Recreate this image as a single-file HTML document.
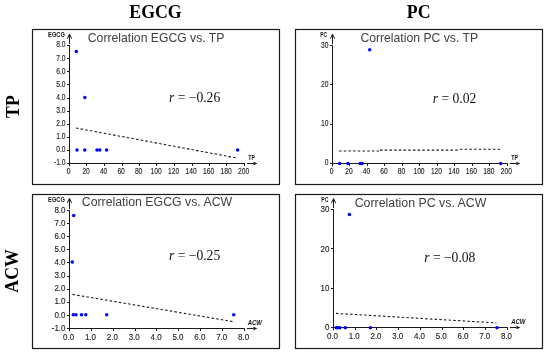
<!DOCTYPE html>
<html><head><meta charset="utf-8"><style>
html,body{margin:0;padding:0;background:#fff;}
svg{display:block;filter:blur(0.3px);}
.tk{font-family:"Liberation Sans", sans-serif;font-size:8px;fill:#1a1a1a;stroke:#1a1a1a;stroke-width:0.12px;}
.an{font-family:"Liberation Sans", sans-serif;font-size:6.4px;font-weight:bold;fill:#111;}
.it{font-style:italic;}
.ti{font-family:"Liberation Sans", sans-serif;font-size:12px;fill:#404040;}
.rr{font-family:"Liberation Serif", serif;font-size:13.6px;fill:#111;}
.hd{font-family:"Liberation Serif", serif;font-size:17.8px;font-weight:bold;fill:#000;}
</style></head><body>
<svg width="550" height="356" viewBox="0 0 550 356">
<rect width="550" height="356" fill="#fff"/>
<rect x="32.5" y="29.5" width="247" height="155" fill="none" stroke="#1a1a1a" stroke-width="1.2"/>
<line x1="69.5" y1="166.3" x2="69.5" y2="45.10" stroke="#1a1a1a" stroke-width="1"/>
<line x1="69.5" y1="44.00" x2="69.5" y2="36" stroke="#1a1a1a" stroke-width="1"/>
<path d="M67.2,38.8 L69.5,34 L71.8,38.8" fill="none" stroke="#1a1a1a" stroke-width="0.9"/>
<path d="M68.3,37 L69.5,34 L70.7,37 Z" fill="#1a1a1a"/>
<line x1="67.0" y1="163.5" x2="245.0" y2="163.5" stroke="#1a1a1a" stroke-width="1"/>
<line x1="247.0" y1="163.5" x2="253.5" y2="163.5" stroke="#1a1a1a" stroke-width="1"/>
<path d="M253.5,161.7 L257.5,163.5 L253.5,165.3 Z" fill="#1a1a1a"/>
<line x1="67.0" y1="163.50" x2="69.5" y2="163.50" stroke="#1a1a1a" stroke-width="1"/>
<text transform="translate(65.50,165.30) scale(0.78,1)" text-anchor="end" class="tk" style="font-size:8.6px">-1.0</text>
<line x1="67.0" y1="150.50" x2="69.5" y2="150.50" stroke="#1a1a1a" stroke-width="1"/>
<text transform="translate(65.50,152.20) scale(0.78,1)" text-anchor="end" class="tk" style="font-size:8.6px">0.0</text>
<line x1="67.0" y1="137.50" x2="69.5" y2="137.50" stroke="#1a1a1a" stroke-width="1"/>
<text transform="translate(65.50,139.10) scale(0.78,1)" text-anchor="end" class="tk" style="font-size:8.6px">1.0</text>
<line x1="67.0" y1="124.50" x2="69.5" y2="124.50" stroke="#1a1a1a" stroke-width="1"/>
<text transform="translate(65.50,126.00) scale(0.78,1)" text-anchor="end" class="tk" style="font-size:8.6px">2.0</text>
<line x1="67.0" y1="111.50" x2="69.5" y2="111.50" stroke="#1a1a1a" stroke-width="1"/>
<text transform="translate(65.50,112.90) scale(0.78,1)" text-anchor="end" class="tk" style="font-size:8.6px">3.0</text>
<line x1="67.0" y1="98.50" x2="69.5" y2="98.50" stroke="#1a1a1a" stroke-width="1"/>
<text transform="translate(65.50,99.80) scale(0.78,1)" text-anchor="end" class="tk" style="font-size:8.6px">4.0</text>
<line x1="67.0" y1="84.50" x2="69.5" y2="84.50" stroke="#1a1a1a" stroke-width="1"/>
<text transform="translate(65.50,86.70) scale(0.78,1)" text-anchor="end" class="tk" style="font-size:8.6px">5.0</text>
<line x1="67.0" y1="71.50" x2="69.5" y2="71.50" stroke="#1a1a1a" stroke-width="1"/>
<text transform="translate(65.50,73.60) scale(0.78,1)" text-anchor="end" class="tk" style="font-size:8.6px">6.0</text>
<line x1="67.0" y1="58.50" x2="69.5" y2="58.50" stroke="#1a1a1a" stroke-width="1"/>
<text transform="translate(65.50,60.50) scale(0.78,1)" text-anchor="end" class="tk" style="font-size:8.6px">7.0</text>
<line x1="67.0" y1="45.50" x2="69.5" y2="45.50" stroke="#1a1a1a" stroke-width="1"/>
<text transform="translate(65.50,47.40) scale(0.78,1)" text-anchor="end" class="tk" style="font-size:8.6px">8.0</text>
<text transform="translate(68.60,173.90) scale(0.78,1)" text-anchor="middle" class="tk" style="font-size:8.6px">0</text>
<line x1="86.50" y1="163.5" x2="86.50" y2="166.0" stroke="#1a1a1a" stroke-width="1"/>
<text transform="translate(86.10,173.90) scale(0.78,1)" text-anchor="middle" class="tk" style="font-size:8.6px">20</text>
<line x1="104.50" y1="163.5" x2="104.50" y2="166.0" stroke="#1a1a1a" stroke-width="1"/>
<text transform="translate(103.60,173.90) scale(0.78,1)" text-anchor="middle" class="tk" style="font-size:8.6px">40</text>
<line x1="122.50" y1="163.5" x2="122.50" y2="166.0" stroke="#1a1a1a" stroke-width="1"/>
<text transform="translate(121.10,173.90) scale(0.78,1)" text-anchor="middle" class="tk" style="font-size:8.6px">60</text>
<line x1="139.50" y1="163.5" x2="139.50" y2="166.0" stroke="#1a1a1a" stroke-width="1"/>
<text transform="translate(138.60,173.90) scale(0.78,1)" text-anchor="middle" class="tk" style="font-size:8.6px">80</text>
<line x1="156.50" y1="163.5" x2="156.50" y2="166.0" stroke="#1a1a1a" stroke-width="1"/>
<text transform="translate(156.10,173.90) scale(0.78,1)" text-anchor="middle" class="tk" style="font-size:8.6px">100</text>
<line x1="174.50" y1="163.5" x2="174.50" y2="166.0" stroke="#1a1a1a" stroke-width="1"/>
<text transform="translate(173.60,173.90) scale(0.78,1)" text-anchor="middle" class="tk" style="font-size:8.6px">120</text>
<line x1="192.50" y1="163.5" x2="192.50" y2="166.0" stroke="#1a1a1a" stroke-width="1"/>
<text transform="translate(191.10,173.90) scale(0.78,1)" text-anchor="middle" class="tk" style="font-size:8.6px">140</text>
<line x1="209.50" y1="163.5" x2="209.50" y2="166.0" stroke="#1a1a1a" stroke-width="1"/>
<text transform="translate(208.60,173.90) scale(0.78,1)" text-anchor="middle" class="tk" style="font-size:8.6px">160</text>
<line x1="226.50" y1="163.5" x2="226.50" y2="166.0" stroke="#1a1a1a" stroke-width="1"/>
<text transform="translate(226.10,173.90) scale(0.78,1)" text-anchor="middle" class="tk" style="font-size:8.6px">180</text>
<line x1="244.50" y1="163.5" x2="244.50" y2="166.0" stroke="#1a1a1a" stroke-width="1"/>
<text transform="translate(243.60,173.90) scale(0.78,1)" text-anchor="middle" class="tk" style="font-size:8.6px">200</text>
<text x="48.10" y="36.90" textLength="16.8" lengthAdjust="spacingAndGlyphs" class="an">EGCG</text>
<text x="248.30" y="160.20" textLength="6.7" lengthAdjust="spacingAndGlyphs" class="an">TP</text>
<text x="87.8" y="41.6" class="ti" style="font-size:12.2px">Correlation EGCG vs. TP</text>
<text x="169" y="101.5" class="rr"><tspan font-style="italic">r</tspan> = −0.26</text>
<line x1="76" y1="128" x2="237" y2="158" stroke="#1a1a1a" stroke-width="1.1" stroke-dasharray="2.5,2.2"/>
<circle cx="77" cy="150" r="1.75" fill="#0000ff"/>
<circle cx="84.8" cy="150" r="1.75" fill="#0000ff"/>
<circle cx="97" cy="150" r="1.75" fill="#0000ff"/>
<circle cx="99.7" cy="150" r="1.75" fill="#0000ff"/>
<circle cx="106.6" cy="150" r="1.75" fill="#0000ff"/>
<circle cx="237.6" cy="150" r="1.75" fill="#0000ff"/>
<circle cx="76.3" cy="51.4" r="1.75" fill="#0000ff"/>
<circle cx="84.8" cy="97.5" r="1.75" fill="#0000ff"/>
<rect x="295.5" y="29.5" width="247" height="155" fill="none" stroke="#1a1a1a" stroke-width="1.2"/>
<line x1="332.5" y1="166.3" x2="332.5" y2="45.30" stroke="#1a1a1a" stroke-width="1"/>
<line x1="332.5" y1="44.20" x2="332.5" y2="36.1" stroke="#1a1a1a" stroke-width="1"/>
<path d="M330.2,38.9 L332.5,34.1 L334.8,38.9" fill="none" stroke="#1a1a1a" stroke-width="0.9"/>
<path d="M331.3,37.1 L332.5,34.1 L333.7,37.1 Z" fill="#1a1a1a"/>
<line x1="330.0" y1="163.5" x2="507.8" y2="163.5" stroke="#1a1a1a" stroke-width="1"/>
<line x1="509.8" y1="163.5" x2="516.3" y2="163.5" stroke="#1a1a1a" stroke-width="1"/>
<path d="M516.3,161.7 L520.3,163.5 L516.3,165.3 Z" fill="#1a1a1a"/>
<line x1="330.0" y1="163.50" x2="332.5" y2="163.50" stroke="#1a1a1a" stroke-width="1"/>
<text transform="translate(328.50,165.20) scale(0.78,1)" text-anchor="end" class="tk" style="font-size:8.6px">0</text>
<line x1="330.0" y1="124.50" x2="332.5" y2="124.50" stroke="#1a1a1a" stroke-width="1"/>
<text transform="translate(328.50,126.00) scale(0.78,1)" text-anchor="end" class="tk" style="font-size:8.6px">10</text>
<line x1="330.0" y1="84.50" x2="332.5" y2="84.50" stroke="#1a1a1a" stroke-width="1"/>
<text transform="translate(328.50,86.80) scale(0.78,1)" text-anchor="end" class="tk" style="font-size:8.6px">20</text>
<line x1="330.0" y1="45.50" x2="332.5" y2="45.50" stroke="#1a1a1a" stroke-width="1"/>
<text transform="translate(328.50,47.60) scale(0.78,1)" text-anchor="end" class="tk" style="font-size:8.6px">30</text>
<text transform="translate(331.60,173.90) scale(0.78,1)" text-anchor="middle" class="tk" style="font-size:8.6px">0</text>
<line x1="349.50" y1="163.5" x2="349.50" y2="166.0" stroke="#1a1a1a" stroke-width="1"/>
<text transform="translate(349.08,173.90) scale(0.78,1)" text-anchor="middle" class="tk" style="font-size:8.6px">20</text>
<line x1="367.50" y1="163.5" x2="367.50" y2="166.0" stroke="#1a1a1a" stroke-width="1"/>
<text transform="translate(366.56,173.90) scale(0.78,1)" text-anchor="middle" class="tk" style="font-size:8.6px">40</text>
<line x1="384.50" y1="163.5" x2="384.50" y2="166.0" stroke="#1a1a1a" stroke-width="1"/>
<text transform="translate(384.04,173.90) scale(0.78,1)" text-anchor="middle" class="tk" style="font-size:8.6px">60</text>
<line x1="402.50" y1="163.5" x2="402.50" y2="166.0" stroke="#1a1a1a" stroke-width="1"/>
<text transform="translate(401.52,173.90) scale(0.78,1)" text-anchor="middle" class="tk" style="font-size:8.6px">80</text>
<line x1="419.50" y1="163.5" x2="419.50" y2="166.0" stroke="#1a1a1a" stroke-width="1"/>
<text transform="translate(419.00,173.90) scale(0.78,1)" text-anchor="middle" class="tk" style="font-size:8.6px">100</text>
<line x1="437.50" y1="163.5" x2="437.50" y2="166.0" stroke="#1a1a1a" stroke-width="1"/>
<text transform="translate(436.48,173.90) scale(0.78,1)" text-anchor="middle" class="tk" style="font-size:8.6px">120</text>
<line x1="454.50" y1="163.5" x2="454.50" y2="166.0" stroke="#1a1a1a" stroke-width="1"/>
<text transform="translate(453.96,173.90) scale(0.78,1)" text-anchor="middle" class="tk" style="font-size:8.6px">140</text>
<line x1="472.50" y1="163.5" x2="472.50" y2="166.0" stroke="#1a1a1a" stroke-width="1"/>
<text transform="translate(471.44,173.90) scale(0.78,1)" text-anchor="middle" class="tk" style="font-size:8.6px">160</text>
<line x1="489.50" y1="163.5" x2="489.50" y2="166.0" stroke="#1a1a1a" stroke-width="1"/>
<text transform="translate(488.92,173.90) scale(0.78,1)" text-anchor="middle" class="tk" style="font-size:8.6px">180</text>
<line x1="507.50" y1="163.5" x2="507.50" y2="166.0" stroke="#1a1a1a" stroke-width="1"/>
<text transform="translate(506.40,173.90) scale(0.78,1)" text-anchor="middle" class="tk" style="font-size:8.6px">200</text>
<text x="320.30" y="36.60" textLength="6.7" lengthAdjust="spacingAndGlyphs" class="an">PC</text>
<text x="511.20" y="159.80" textLength="6.8" lengthAdjust="spacingAndGlyphs" class="an">TP</text>
<text x="360.4" y="41.7" class="ti" style="font-size:12.2px">Correlation PC vs. TP</text>
<text x="432.7" y="102.6" class="rr"><tspan font-style="italic">r</tspan> = 0.02</text>
<path d="M339,151 L379,151 M380,150.1 L459,150.1 M460,149.2 L500.7,149.2" fill="none" stroke="#1a1a1a" stroke-width="1.1" stroke-dasharray="2.5,2.2"/>
<circle cx="339.6" cy="163.4" r="1.75" fill="#0000ff"/>
<circle cx="348" cy="163.4" r="1.75" fill="#0000ff"/>
<circle cx="360.2" cy="163.4" r="1.75" fill="#0000ff"/>
<circle cx="362.2" cy="163.4" r="1.75" fill="#0000ff"/>
<circle cx="369.7" cy="49.7" r="1.75" fill="#0000ff"/>
<circle cx="500.7" cy="163.4" r="1.75" fill="#0000ff"/>
<rect x="32.5" y="194.5" width="247" height="154" fill="none" stroke="#1a1a1a" stroke-width="1.2"/>
<line x1="69.5" y1="331.3" x2="69.5" y2="210.26" stroke="#1a1a1a" stroke-width="1"/>
<line x1="69.5" y1="209.16" x2="69.5" y2="200.2" stroke="#1a1a1a" stroke-width="1"/>
<path d="M67.2,203.0 L69.5,198.2 L71.8,203.0" fill="none" stroke="#1a1a1a" stroke-width="0.9"/>
<path d="M68.3,201.2 L69.5,198.2 L70.7,201.2 Z" fill="#1a1a1a"/>
<line x1="67.0" y1="328.5" x2="244.9" y2="328.5" stroke="#1a1a1a" stroke-width="1"/>
<line x1="246.9" y1="328.5" x2="253.4" y2="328.5" stroke="#1a1a1a" stroke-width="1"/>
<path d="M253.4,326.7 L257.4,328.5 L253.4,330.3 Z" fill="#1a1a1a"/>
<line x1="67.0" y1="328.50" x2="69.5" y2="328.50" stroke="#1a1a1a" stroke-width="1"/>
<text transform="translate(65.50,330.60) scale(0.93,1)" text-anchor="end" class="tk" style="font-size:8.6px">-1.0</text>
<line x1="67.0" y1="315.50" x2="69.5" y2="315.50" stroke="#1a1a1a" stroke-width="1"/>
<text transform="translate(65.50,317.54) scale(0.93,1)" text-anchor="end" class="tk" style="font-size:8.6px">0.0</text>
<line x1="67.0" y1="302.50" x2="69.5" y2="302.50" stroke="#1a1a1a" stroke-width="1"/>
<text transform="translate(65.50,304.48) scale(0.93,1)" text-anchor="end" class="tk" style="font-size:8.6px">1.0</text>
<line x1="67.0" y1="289.50" x2="69.5" y2="289.50" stroke="#1a1a1a" stroke-width="1"/>
<text transform="translate(65.50,291.42) scale(0.93,1)" text-anchor="end" class="tk" style="font-size:8.6px">2.0</text>
<line x1="67.0" y1="276.50" x2="69.5" y2="276.50" stroke="#1a1a1a" stroke-width="1"/>
<text transform="translate(65.50,278.36) scale(0.93,1)" text-anchor="end" class="tk" style="font-size:8.6px">3.0</text>
<line x1="67.0" y1="262.50" x2="69.5" y2="262.50" stroke="#1a1a1a" stroke-width="1"/>
<text transform="translate(65.50,265.30) scale(0.93,1)" text-anchor="end" class="tk" style="font-size:8.6px">4.0</text>
<line x1="67.0" y1="249.50" x2="69.5" y2="249.50" stroke="#1a1a1a" stroke-width="1"/>
<text transform="translate(65.50,252.24) scale(0.93,1)" text-anchor="end" class="tk" style="font-size:8.6px">5.0</text>
<line x1="67.0" y1="236.50" x2="69.5" y2="236.50" stroke="#1a1a1a" stroke-width="1"/>
<text transform="translate(65.50,239.18) scale(0.93,1)" text-anchor="end" class="tk" style="font-size:8.6px">6.0</text>
<line x1="67.0" y1="223.50" x2="69.5" y2="223.50" stroke="#1a1a1a" stroke-width="1"/>
<text transform="translate(65.50,226.12) scale(0.93,1)" text-anchor="end" class="tk" style="font-size:8.6px">7.0</text>
<line x1="67.0" y1="210.50" x2="69.5" y2="210.50" stroke="#1a1a1a" stroke-width="1"/>
<text transform="translate(65.50,213.06) scale(0.93,1)" text-anchor="end" class="tk" style="font-size:8.6px">8.0</text>
<text transform="translate(68.60,340.10) scale(0.93,1)" text-anchor="middle" class="tk" style="font-size:8.6px">0.0</text>
<line x1="91.50" y1="328.5" x2="91.50" y2="331.0" stroke="#1a1a1a" stroke-width="1"/>
<text transform="translate(90.47,340.10) scale(0.93,1)" text-anchor="middle" class="tk" style="font-size:8.6px">1.0</text>
<line x1="113.50" y1="328.5" x2="113.50" y2="331.0" stroke="#1a1a1a" stroke-width="1"/>
<text transform="translate(112.34,340.10) scale(0.93,1)" text-anchor="middle" class="tk" style="font-size:8.6px">2.0</text>
<line x1="135.50" y1="328.5" x2="135.50" y2="331.0" stroke="#1a1a1a" stroke-width="1"/>
<text transform="translate(134.21,340.10) scale(0.93,1)" text-anchor="middle" class="tk" style="font-size:8.6px">3.0</text>
<line x1="156.50" y1="328.5" x2="156.50" y2="331.0" stroke="#1a1a1a" stroke-width="1"/>
<text transform="translate(156.08,340.10) scale(0.93,1)" text-anchor="middle" class="tk" style="font-size:8.6px">4.0</text>
<line x1="178.50" y1="328.5" x2="178.50" y2="331.0" stroke="#1a1a1a" stroke-width="1"/>
<text transform="translate(177.95,340.10) scale(0.93,1)" text-anchor="middle" class="tk" style="font-size:8.6px">5.0</text>
<line x1="200.50" y1="328.5" x2="200.50" y2="331.0" stroke="#1a1a1a" stroke-width="1"/>
<text transform="translate(199.82,340.10) scale(0.93,1)" text-anchor="middle" class="tk" style="font-size:8.6px">6.0</text>
<line x1="222.50" y1="328.5" x2="222.50" y2="331.0" stroke="#1a1a1a" stroke-width="1"/>
<text transform="translate(221.69,340.10) scale(0.93,1)" text-anchor="middle" class="tk" style="font-size:8.6px">7.0</text>
<line x1="244.50" y1="328.5" x2="244.50" y2="331.0" stroke="#1a1a1a" stroke-width="1"/>
<text transform="translate(243.56,340.10) scale(0.93,1)" text-anchor="middle" class="tk" style="font-size:8.6px">8.0</text>
<text x="48.10" y="201.90" textLength="16.8" lengthAdjust="spacingAndGlyphs" class="an">EGCG</text>
<text x="247.70" y="324.70" textLength="14.3" lengthAdjust="spacingAndGlyphs" class="an it">ACW</text>
<text x="81.8" y="206.4" class="ti" style="font-size:12.3px">Correlation EGCG vs. ACW</text>
<text x="169" y="259.8" class="rr"><tspan font-style="italic">r</tspan> = −0.25</text>
<line x1="72.5" y1="294.4" x2="233.7" y2="321.7" stroke="#1a1a1a" stroke-width="1.1" stroke-dasharray="2.5,2.2"/>
<circle cx="73.7" cy="215.5" r="1.75" fill="#0000ff"/>
<circle cx="72.3" cy="262" r="1.75" fill="#0000ff"/>
<circle cx="73.3" cy="314.7" r="1.75" fill="#0000ff"/>
<circle cx="76" cy="314.7" r="1.75" fill="#0000ff"/>
<circle cx="81.5" cy="314.7" r="1.75" fill="#0000ff"/>
<circle cx="85.8" cy="314.7" r="1.75" fill="#0000ff"/>
<circle cx="106.7" cy="314.7" r="1.75" fill="#0000ff"/>
<circle cx="233.7" cy="314.7" r="1.75" fill="#0000ff"/>
<rect x="295.5" y="194.5" width="247" height="154" fill="none" stroke="#1a1a1a" stroke-width="1.2"/>
<line x1="333.5" y1="330.3" x2="333.5" y2="209.10" stroke="#1a1a1a" stroke-width="1"/>
<line x1="333.5" y1="208.00" x2="333.5" y2="200.5" stroke="#1a1a1a" stroke-width="1"/>
<path d="M331.2,203.3 L333.5,198.5 L335.8,203.3" fill="none" stroke="#1a1a1a" stroke-width="0.9"/>
<path d="M332.3,201.5 L333.5,198.5 L334.7,201.5 Z" fill="#1a1a1a"/>
<line x1="331.0" y1="327.5" x2="507.9" y2="327.5" stroke="#1a1a1a" stroke-width="1"/>
<line x1="509.9" y1="327.5" x2="516.4" y2="327.5" stroke="#1a1a1a" stroke-width="1"/>
<path d="M516.4,325.7 L520.4,327.5 L516.4,329.3 Z" fill="#1a1a1a"/>
<line x1="331.0" y1="327.50" x2="333.5" y2="327.50" stroke="#1a1a1a" stroke-width="1"/>
<text transform="translate(329.50,330.30) scale(0.93,1)" text-anchor="end" class="tk" style="font-size:8.6px">0</text>
<line x1="331.0" y1="288.50" x2="333.5" y2="288.50" stroke="#1a1a1a" stroke-width="1"/>
<text transform="translate(329.50,291.00) scale(0.93,1)" text-anchor="end" class="tk" style="font-size:8.6px">10</text>
<line x1="331.0" y1="248.50" x2="333.5" y2="248.50" stroke="#1a1a1a" stroke-width="1"/>
<text transform="translate(329.50,251.70) scale(0.93,1)" text-anchor="end" class="tk" style="font-size:8.6px">20</text>
<line x1="331.0" y1="209.50" x2="333.5" y2="209.50" stroke="#1a1a1a" stroke-width="1"/>
<text transform="translate(329.50,212.40) scale(0.93,1)" text-anchor="end" class="tk" style="font-size:8.6px">30</text>
<text transform="translate(332.50,338.80) scale(0.93,1)" text-anchor="middle" class="tk" style="font-size:8.6px">0.0</text>
<line x1="355.50" y1="327.5" x2="355.50" y2="330.0" stroke="#1a1a1a" stroke-width="1"/>
<text transform="translate(354.25,338.80) scale(0.93,1)" text-anchor="middle" class="tk" style="font-size:8.6px">1.0</text>
<line x1="376.50" y1="327.5" x2="376.50" y2="330.0" stroke="#1a1a1a" stroke-width="1"/>
<text transform="translate(376.00,338.80) scale(0.93,1)" text-anchor="middle" class="tk" style="font-size:8.6px">2.0</text>
<line x1="398.50" y1="327.5" x2="398.50" y2="330.0" stroke="#1a1a1a" stroke-width="1"/>
<text transform="translate(397.75,338.80) scale(0.93,1)" text-anchor="middle" class="tk" style="font-size:8.6px">3.0</text>
<line x1="420.50" y1="327.5" x2="420.50" y2="330.0" stroke="#1a1a1a" stroke-width="1"/>
<text transform="translate(419.50,338.80) scale(0.93,1)" text-anchor="middle" class="tk" style="font-size:8.6px">4.0</text>
<line x1="442.50" y1="327.5" x2="442.50" y2="330.0" stroke="#1a1a1a" stroke-width="1"/>
<text transform="translate(441.25,338.80) scale(0.93,1)" text-anchor="middle" class="tk" style="font-size:8.6px">5.0</text>
<line x1="463.50" y1="327.5" x2="463.50" y2="330.0" stroke="#1a1a1a" stroke-width="1"/>
<text transform="translate(463.00,338.80) scale(0.93,1)" text-anchor="middle" class="tk" style="font-size:8.6px">6.0</text>
<line x1="485.50" y1="327.5" x2="485.50" y2="330.0" stroke="#1a1a1a" stroke-width="1"/>
<text transform="translate(484.75,338.80) scale(0.93,1)" text-anchor="middle" class="tk" style="font-size:8.6px">7.0</text>
<line x1="507.50" y1="327.5" x2="507.50" y2="330.0" stroke="#1a1a1a" stroke-width="1"/>
<text transform="translate(506.50,338.80) scale(0.93,1)" text-anchor="middle" class="tk" style="font-size:8.6px">8.0</text>
<text x="321.30" y="201.70" textLength="7.0" lengthAdjust="spacingAndGlyphs" class="an">PC</text>
<text x="511.20" y="323.70" textLength="14.1" lengthAdjust="spacingAndGlyphs" class="an it">ACW</text>
<text x="354.7" y="206.5" class="ti" style="font-size:12.35px">Correlation PC vs. ACW</text>
<text x="424.2" y="262.4" class="rr"><tspan font-style="italic">r</tspan> = −0.08</text>
<line x1="336" y1="313.4" x2="496.4" y2="322.9" stroke="#1a1a1a" stroke-width="1.1" stroke-dasharray="2.5,2.2"/>
<circle cx="336.2" cy="327.7" r="1.75" fill="#0000ff"/>
<circle cx="337.9" cy="327.7" r="1.75" fill="#0000ff"/>
<circle cx="339.9" cy="327.7" r="1.75" fill="#0000ff"/>
<circle cx="345.3" cy="327.7" r="1.75" fill="#0000ff"/>
<circle cx="370.4" cy="327.7" r="1.75" fill="#0000ff"/>
<circle cx="497" cy="327.7" r="1.75" fill="#0000ff"/>
<circle cx="349.4" cy="214.4" r="1.75" fill="#0000ff"/>
<text x="155.5" y="17.9" text-anchor="middle" class="hd">EGCG</text>
<text x="418.7" y="17.9" text-anchor="middle" class="hd">PC</text>
<text transform="translate(18.8,106.6) rotate(-90)" text-anchor="middle" class="hd">TP</text>
<text transform="translate(17.8,270.9) rotate(-90)" text-anchor="middle" class="hd">ACW</text>
</svg>
</body></html>
